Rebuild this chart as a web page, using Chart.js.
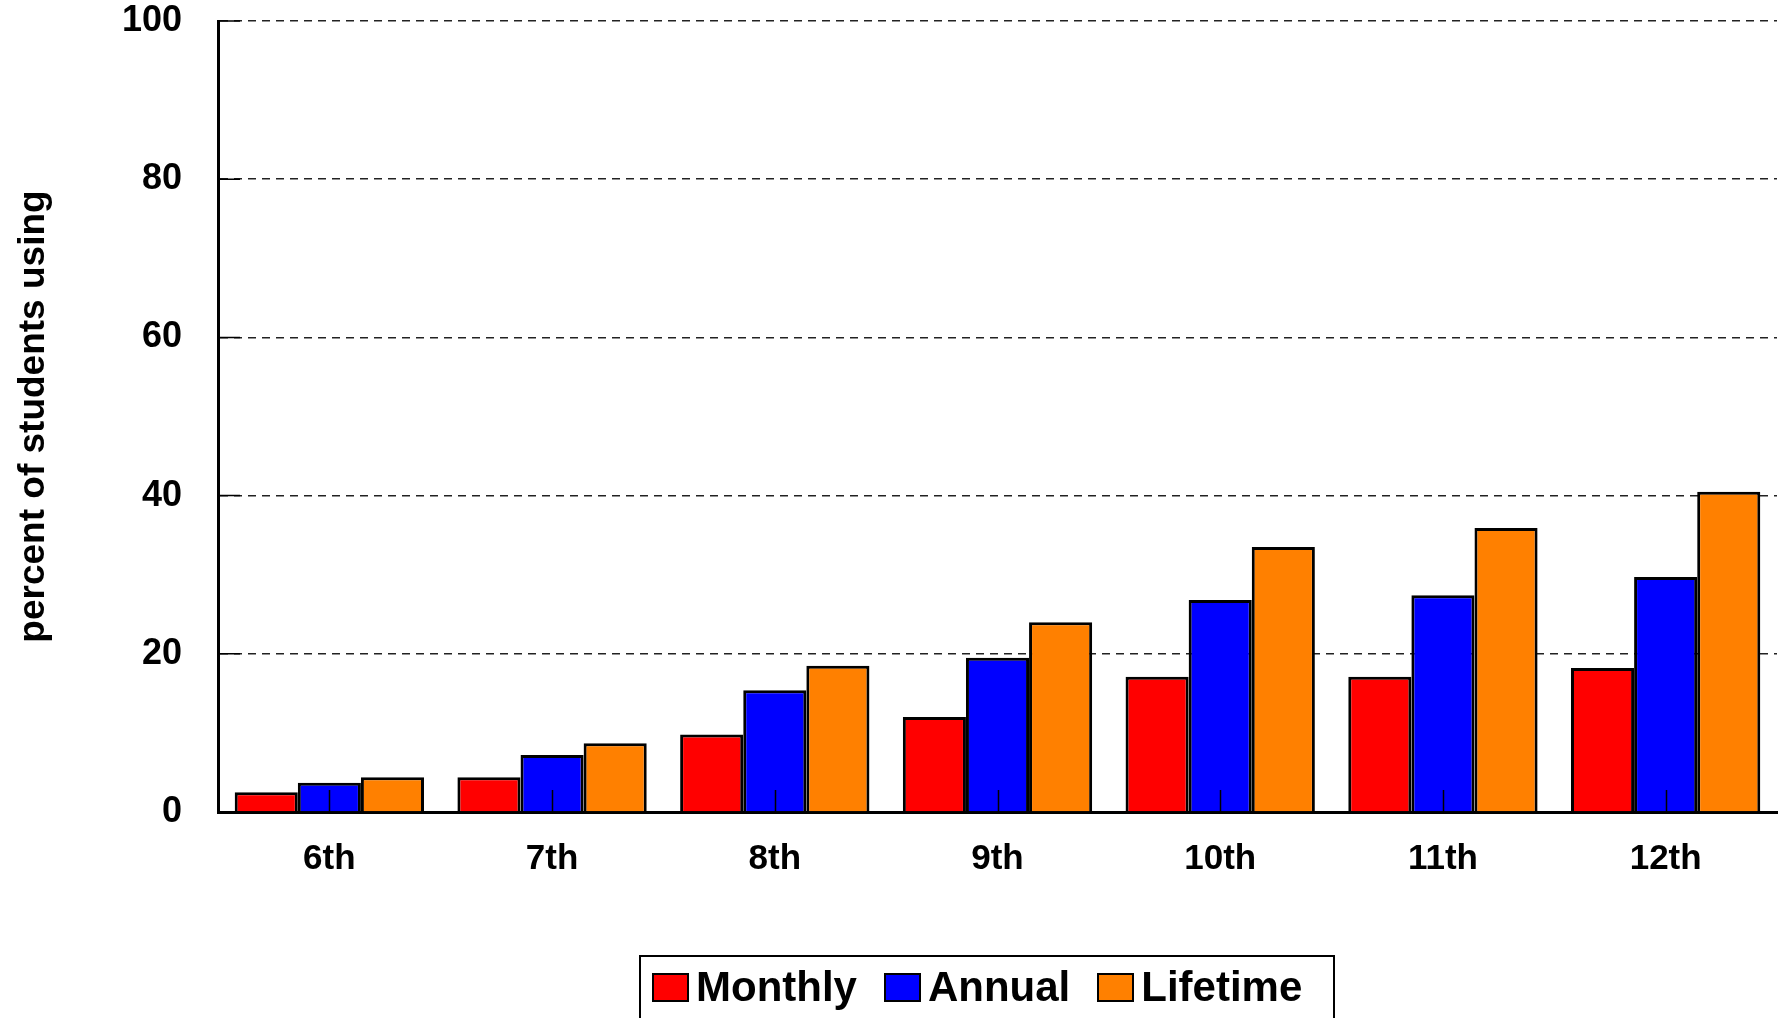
<!DOCTYPE html>
<html>
<head>
<meta charset="utf-8">
<script src="https://cdn.jsdelivr.net/npm/chart.js@4.4.0/dist/chart.umd.min.js"></script>
<style>
  body { margin: 0; background: #fff; overflow: hidden; }
  #wrap { position: relative; width: 1779px; height: 1018px; overflow: hidden; }
  #legend {
    position: absolute; left: 639px; top: 955px; width: 692px; height: 90px;
    border: 2px solid #000; box-sizing: content-box;
    font-family: 'Liberation Sans', Arial, sans-serif; font-weight: bold; font-size: 42px;
  }
  #legend .row { display: flex; align-items: center; height: 60px; padding-left: 11px; }
  #legend .item { display: flex; align-items: center; margin-right: 27px; }
  #legend .sw { width: 33px; height: 25px; border: 2px solid #000; margin-right: 7px; }
</style>
</head>
<body>
<div id="wrap">
  <canvas id="chart" width="1779" height="1018"></canvas>
  <div id="legend"><div class="row"></div></div>
</div>
<script>
var grades = ['6th', '7th', '8th', '9th', '10th', '11th', '12th'];
var monthly = [2.5, 4.4, 9.8, 12.0, 17.1, 17.1, 18.2];
var annual = [3.7, 7.2, 15.4, 19.5, 26.8, 27.4, 29.7];
var lifetime = [4.4, 8.7, 18.5, 24.0, 33.5, 35.9, 40.5];
var yTicks = [0, 20, 40, 60, 80, 100];
var seriesNames = ['Monthly', 'Annual', 'Lifetime'];
var seriesColors = ['#ff0000', '#0000ff', '#ff8000'];

Chart.defaults.font.family = "'Liberation Sans', Arial, sans-serif";
Chart.defaults.color = '#000';

// small inward tick marks on both axes
var innerTicks = {
  id: 'innerTicks',
  afterDatasetsDraw: function(chart) {
    var ctx = chart.ctx, x = chart.scales.x, y = chart.scales.y;
    ctx.save();
    ctx.strokeStyle = '#000';
    ctx.lineWidth = 1.5;
    ctx.beginPath();
    x.ticks.forEach(function(t, i) {
      var px = Math.round(x.getPixelForTick(i)) + 0.5;
      ctx.moveTo(px, y.bottom);
      ctx.lineTo(px, y.bottom - 22);
    });
    y.ticks.forEach(function(t, i) {
      var py = y.getPixelForTick(i);
      ctx.moveTo(x.left, py);
      ctx.lineTo(x.left + 22, py);
    });
    ctx.stroke();
    ctx.restore();
  }
};

var values = [monthly, annual, lifetime];
var ctx = document.getElementById('chart').getContext('2d');
new Chart(ctx, {
  type: 'bar',
  data: {
    labels: grades,
    datasets: values.map(function(v, i) {
      return {
        label: seriesNames[i],
        data: v,
        backgroundColor: seriesColors[i],
        borderColor: '#000',
        borderWidth: 3,
        categoryPercentage: 0.85,
        barPercentage: 1.0
      };
    })
  },
  options: {
    responsive: false,
    devicePixelRatio: 1,
    animation: false,
    layout: { padding: { top: 0, right: 2, bottom: 0, left: 0 } },
    plugins: { legend: { display: false }, tooltip: { enabled: false } },
    scales: {
      x: {
        grid: { display: false, drawTicks: false },
        border: { display: true, color: '#000', width: 3 },
        ticks: { font: { size: 35, weight: 'bold' }, padding: 26 },
        afterFit: function(scale) { scale.height = 206; }
      },
      y: {
        min: 0,
        max: 100,
        afterBuildTicks: function(scale) {
          scale.ticks = yTicks.map(function(v) { return { value: v }; });
        },
        grid: { color: '#222', lineWidth: 1.5, drawTicks: false },
        border: { display: true, color: '#000', width: 3, dash: [8, 6] },
        ticks: { font: { size: 36, weight: 'bold' }, padding: 36 },
        title: {
          display: true,
          text: 'percent of students using',
          font: { size: 37, weight: 'bold' },
          padding: { top: 12, bottom: 0 }
        },
        afterFit: function(scale) {
          scale.width = 218;
          scale.paddingTop = 21;
          scale.paddingBottom = 0;
        }
      }
    }
  },
  plugins: [innerTicks]
});

// legend built from the series lists
var row = document.querySelector('#legend .row');
seriesNames.forEach(function(name, i) {
  var item = document.createElement('div');
  item.className = 'item';
  var sw = document.createElement('div');
  sw.className = 'sw';
  sw.style.background = seriesColors[i];
  var label = document.createElement('span');
  label.textContent = name;
  item.appendChild(sw);
  item.appendChild(label);
  row.appendChild(item);
});
</script>
</body>
</html>
